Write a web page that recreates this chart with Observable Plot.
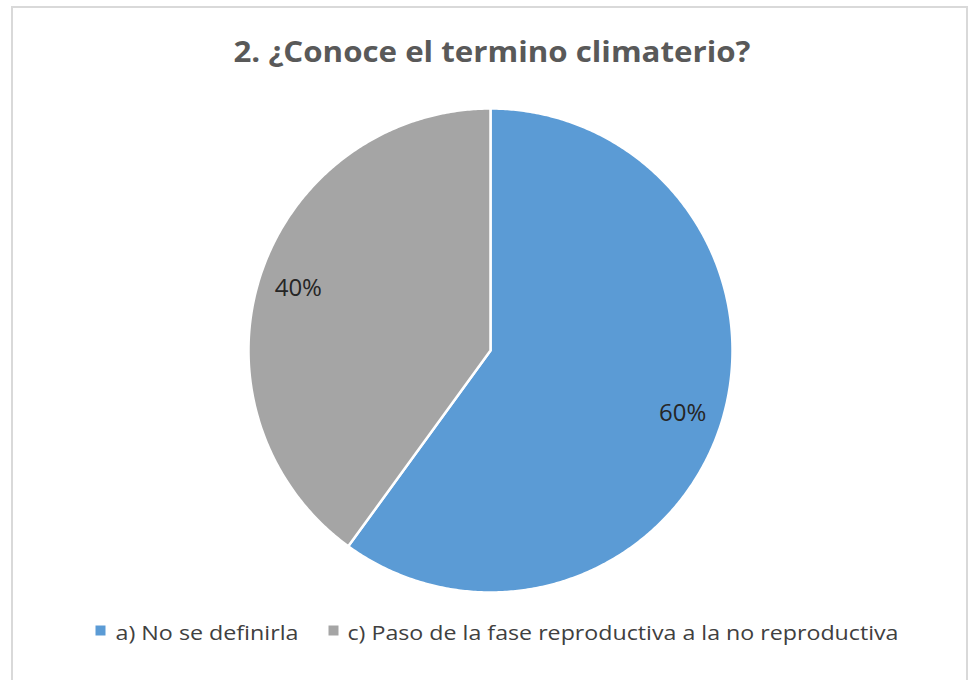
<!DOCTYPE html>
<html><head><meta charset="utf-8">
<script src="https://cdn.jsdelivr.net/npm/d3@7"></script>
<script src="https://cdn.jsdelivr.net/npm/@observablehq/plot@0.6"></script>
<style>
body{margin:0;background:#fff;}
#wrap{position:relative;width:974px;height:680px;overflow:hidden;background:#fff;}
#border{position:absolute;left:11px;top:6px;width:957px;height:720px;border:2px solid #d9d9d9;box-sizing:border-box;pointer-events:none;}
#chart{position:absolute;left:0;top:0;}
</style></head><body><div id="wrap"><div id="chart"></div><div id="border"></div></div>
<script>
const title = "2. ¿Conoce el termino climaterio?";
const categories = ["a) No se definirla", "c) Paso de la fase reproductiva a la no reproductiva"];
const values = [60, 40];
const labels = ["60%", "40%"];
const colors = ["#5B9BD5", "#A5A5A5"];

const arcs = d3.pie().sort(null).value(d => d)(values);
const slices = arcs.map((a, i) => {
  const pts = [{x: 0, y: 0}];
  const n = Math.max(2, Math.ceil((a.endAngle - a.startAngle) / (Math.PI / 360)));
  for (let k = 0; k <= n; k++) {
    const t = a.startAngle + (a.endAngle - a.startAngle) * k / n;
    pts.push({x: Math.sin(t), y: Math.cos(t)});
  }
  pts.push({x: 0, y: 0});
  return pts;
});
const labelPts = arcs.map((a, i) => {
  const m = (a.startAngle + a.endAngle) / 2;
  return {x: 0.835 * Math.sin(m), y: 0.835 * Math.cos(m), label: labels[i]};
});
const legendItems = categories.map((c, i) => ({cat: c, color: colors[i], i}));
const legendBoxX = [100, 333];
const legendTextX = [115, 347];
const legendTextW = [183, 551];

const chart = Plot.plot({
  width: 974,
  height: 680,
  margin: 0,
  x: {domain: [-1, 1], range: [248, 732], axis: null},
  y: {domain: [-1, 1], range: [592, 108], axis: null},
  style: {background: "transparent"},
  marks: [
    ...slices.map((pts, i) => Plot.line(pts, {x: "x", y: "y", fill: colors[i], stroke: "#ffffff", strokeWidth: 2.5, strokeLinejoin: "round"})),
    Plot.text(labelPts, {x: "x", y: "y", text: "label", fontSize: 24, fill: "#262626", fontFamily: "Open Sans"}),
    Plot.text([title], {frameAnchor: "top", lineAnchor: "middle", dx: 4.5, dy: 53, text: d => d, fontSize: 28, fontWeight: "bold", fill: "#595959", fontFamily: "Open Sans", className: "ttl"}),
    ...legendItems.map(d => Plot.dot([d], {frameAnchor: "top-left", dx: legendBoxX[d.i], dy: 630, symbol: "square", r: 5.64, fill: d.color, stroke: null})),
    ...legendItems.map(d => Plot.text([d], {frameAnchor: "top-left", lineAnchor: "middle", dx: legendTextX[d.i], dy: 633, text: "cat", textAnchor: "start", fontSize: 20, fill: "#404040", fontFamily: "Open Sans", className: "leg" + d.i}))
  ]
});
document.getElementById("chart").appendChild(chart);
// fit text widths to the reference
const fit = (sel, w) => { const t = chart.querySelector(sel + " text"); if (t) { t.setAttribute("textLength", w); t.setAttribute("lengthAdjust", "spacingAndGlyphs"); } };
fit(".ttl", 517);
fit(".leg0", legendTextW[0]);
fit(".leg1", legendTextW[1]);
</script></body></html>
